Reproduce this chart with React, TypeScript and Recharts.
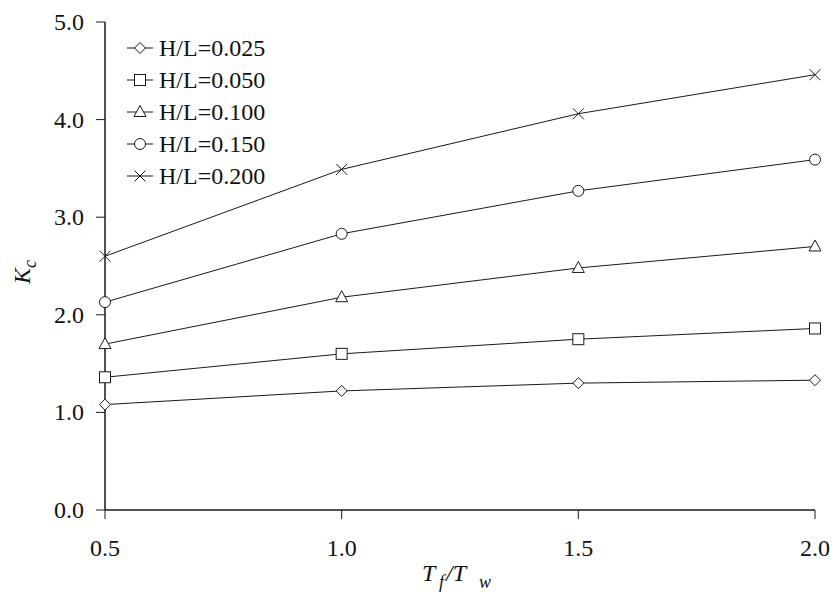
import React from "react";
import { LineChart, Line, XAxis, YAxis, Legend } from "recharts";

const ratios = [0.5, 1.0, 1.5, 2.0];
const hl025 = [1.08, 1.22, 1.3, 1.33];
const hl050 = [1.36, 1.6, 1.75, 1.86];
const hl100 = [1.7, 2.18, 2.48, 2.7];
const hl150 = [2.13, 2.83, 3.27, 3.59];
const hl200 = [2.6, 3.49, 4.06, 4.46];
const xTicks = [0.5, 1.0, 1.5, 2.0];
const yTicks = [0, 1, 2, 3, 4, 5];

const seriesDefs = [
  { key: "s025", name: "H/L=0.025", values: hl025, marker: "diamond" },
  { key: "s050", name: "H/L=0.050", values: hl050, marker: "square" },
  { key: "s100", name: "H/L=0.100", values: hl100, marker: "triangle" },
  { key: "s150", name: "H/L=0.150", values: hl150, marker: "circle" },
  { key: "s200", name: "H/L=0.200", values: hl200, marker: "cross" },
];

const data = ratios.map((r, i) => {
  const row: any = { x: r };
  seriesDefs.forEach((s) => (row[s.key] = s.values[i]));
  return row;
});

const FONT = "Liberation Serif, Times New Roman, serif";
const INK = "#1a1a1a";
const FS = 24;

function Marker({ type, cx, cy }: { type: string; cx: number; cy: number }) {
  const sw = 1;
  switch (type) {
    case "diamond":
      return (
        <path
          d={`M${cx},${cy - 5.5} L${cx + 5.5},${cy} L${cx},${cy + 5.5} L${cx - 5.5},${cy} Z`}
          fill="#fff"
          stroke={INK}
          strokeWidth={sw}
        />
      );
    case "square":
      return <rect x={cx - 5.5} y={cy - 5.5} width={11} height={11} fill="#fff" stroke={INK} strokeWidth={sw} />;
    case "triangle":
      return (
        <path
          d={`M${cx},${cy - 6.5} L${cx + 6},${cy + 4.5} L${cx - 6},${cy + 4.5} Z`}
          fill="#fff"
          stroke={INK}
          strokeWidth={sw}
        />
      );
    case "circle":
      return <circle cx={cx} cy={cy} r={5.5} fill="#fff" stroke={INK} strokeWidth={sw} />;
    case "cross":
      return (
        <path
          d={`M${cx - 5.5},${cy - 5.5} L${cx + 5.5},${cy + 5.5} M${cx - 5.5},${cy + 5.5} L${cx + 5.5},${cy - 5.5}`}
          fill="none"
          stroke={INK}
          strokeWidth={sw}
        />
      );
    default:
      return null;
  }
}

const makeDot = (type: string) => (props: any) => {
  const { cx, cy, index } = props;
  if (cx == null || cy == null) return <g key={`d-${type}-${index}`} />;
  return (
    <g key={`d-${type}-${index}`}>
      <Marker type={type} cx={cx} cy={cy} />
    </g>
  );
};

function LegendContent() {
  return (
    <svg width={170} height={160} style={{ display: "block", overflow: "visible" }}>
      {seriesDefs.map((s, i) => {
        const y = 12 + i * 32;
        return (
          <g key={s.key}>
            <line x1={0} y1={y} x2={26} y2={y} stroke={INK} strokeWidth={1} />
            <Marker type={s.marker} cx={13} cy={y} />
            <text x={32} y={y + 8} style={{ fontFamily: FONT, fontSize: FS }} fill="#111">
              {s.name}
            </text>
          </g>
        );
      })}
    </svg>
  );
}

function XLabel() {
  const st = { fontFamily: FONT, fontStyle: "italic" as const };
  return (
    <g fill="#111">
      <text x={422} y={581} style={{ ...st, fontSize: FS }}>T</text>
      <text x={439} y={588} style={{ ...st, fontSize: 18 }}>f</text>
      <text x={446} y={581} style={{ ...st, fontSize: FS }}>/T</text>
      <text x={479} y={588} style={{ ...st, fontSize: 18 }}>w</text>
    </g>
  );
}

function YLabel() {
  const st = { fontFamily: FONT, fontStyle: "italic" as const };
  return (
    <g transform="translate(30,284) rotate(-90)" fill="#111">
      <text x={0} y={0} style={{ ...st, fontSize: FS }}>K</text>
      <text x={16} y={6} style={{ ...st, fontSize: 18 }}>c</text>
    </g>
  );
}

function Tick(props: any) {
  const { x, y, payload, orientation } = props;
  const label = Number(payload.value).toFixed(1);
  if (orientation === "left") {
    return (
      <text x={x} y={y + 8} textAnchor="end" style={{ fontFamily: FONT, fontSize: FS }} fill="#111">
        {label}
      </text>
    );
  }
  return (
    <text x={x} y={y + 12} textAnchor="middle" style={{ fontFamily: FONT, fontSize: FS }} fill="#111">
      {label}
    </text>
  );
}

export default function App() {
  return (
    <div style={{ position: "absolute", left: 0, top: 0, background: "#fff" }}>
      <LineChart width={838} height={592} data={data} margin={{ top: 22, right: 23, bottom: 0, left: 0 }}>
        <XAxis
          dataKey="x"
          type="number"
          domain={[0.5, 2.0]}
          ticks={xTicks}
          tick={<Tick orientation="bottom" />}
          tickSize={9}
          tickMargin={25}
          height={82}
          stroke={INK}
          axisLine={{ stroke: INK, strokeWidth: 1.5 }}
          label={<XLabel />}
        />
        <XAxis xAxisId="top" orientation="top" dataKey="x" type="number" domain={[0.5, 2.0]} tick={false} tickLine={false} height={0} stroke={INK} axisLine={{ stroke: INK, strokeWidth: 1.5 }} />
        <YAxis
          type="number"
          domain={[0, 5]}
          ticks={yTicks}
          tick={<Tick orientation="left" />}
          tickSize={9}
          tickMargin={12}
          width={105}
          stroke={INK}
          axisLine={{ stroke: INK, strokeWidth: 1.5 }}
          label={<YLabel />}
        />
        <YAxis yAxisId="right" orientation="right" type="number" domain={[0, 5]} tick={false} tickLine={false} width={0} stroke={INK} axisLine={{ stroke: INK, strokeWidth: 1.5 }} />
        <Legend
          layout="vertical"
          align="center"
          verticalAlign="middle"
          content={<LegendContent />}
          wrapperStyle={{ left: 127, top: 36, width: 170, height: 160 }}
        />
        {seriesDefs.map((s) => (
          <Line
            key={s.key}
            dataKey={s.key}
            name={s.name}
            stroke={INK}
            strokeWidth={1}
            dot={makeDot(s.marker)}
            activeDot={false}
            isAnimationActive={false}
          />
        ))}
      </LineChart>
    </div>
  );
}
